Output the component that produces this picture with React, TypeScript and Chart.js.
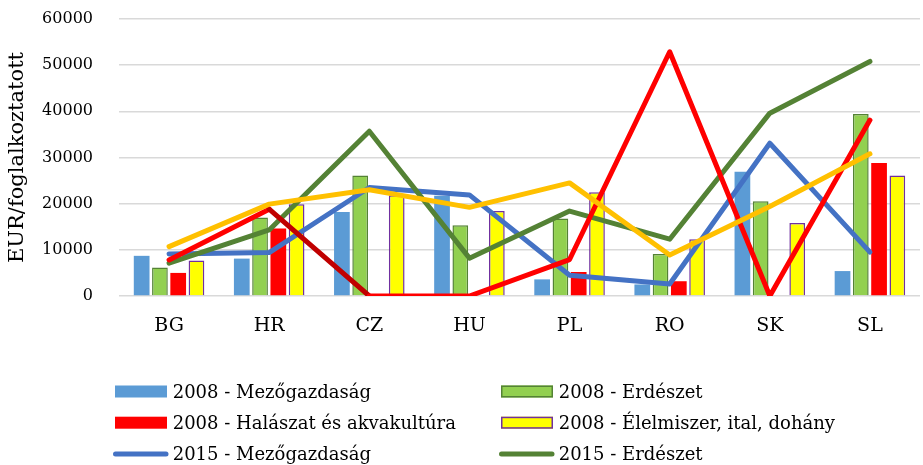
import React, { useEffect, useRef } from 'react';
import { Chart, registerables } from 'chart.js';

Chart.register(...registerables);

const categories = ['BG', 'HR', 'CZ', 'HU', 'PL', 'RO', 'SK', 'SL'];

// 2008 bars
const agri2008 = [8700, 8100, 18200, 21700, 3600, 2500, 26900, 5400];
const forest2008 = [6200, 17000, 26100, 15300, 16800, 9100, 20500, 39400];
const fish2008 = [5000, 14600, 0, 0, 5200, 3200, 0, 28800];
const food2008 = [7700, 19900, 21800, 18400, 22500, 12300, 15800, 26100];

// 2015 lines
const agri2015 = [9100, 9400, 23500, 21900, 4500, 2600, 33100, 9500];
const forest2015 = [7100, 14300, 35700, 8200, 18400, 12300, 39600, 50800];
const fish2015 = [7800, 18800, 0, 0, 7900, 52900, 0, 38100];
const food2015 = [10700, 19900, 23000, 19200, 24500, 8900, 19400, 30800];

const yMin = 0;
const yMax = 60000;
const yStep = 10000;

const FONT = "'DejaVu Serif', serif";

const gridLegend = {
  id: 'gridLegend',
  afterDraw(chart: any) {
    const ctx = chart.ctx as CanvasRenderingContext2D;
    const items = chart.data.datasets.slice(0, 6);
    const colX = [115, 501];
    const rowY = [391.5, 422.7, 454];
    ctx.save();
    items.forEach((ds: any, i: number) => {
      const col = i % 2;
      const row = Math.floor(i / 2);
      const x = colX[col];
      const cy = rowY[row];
      if (ds.type === 'bar') {
        ctx.fillStyle = ds.backgroundColor;
        ctx.fillRect(x, cy - 6, 52, 12);
        if (ds.borderWidth) {
          ctx.strokeStyle = ds.borderColor;
          ctx.lineWidth = 1.5;
          ctx.strokeRect(x + 0.75, cy - 6 + 0.75, 52 - 1.5, 12 - 1.5);
        }
      } else {
        ctx.strokeStyle = ds.borderColor;
        ctx.lineWidth = 5;
        ctx.lineCap = 'round';
        ctx.beginPath();
        ctx.moveTo(x + 0.5, cy);
        ctx.lineTo(x + 51, cy);
        ctx.stroke();
      }
      ctx.fillStyle = '#000';
      ctx.font = `18px ${FONT}`;
      ctx.textAlign = 'left';
      ctx.textBaseline = 'alphabetic';
      ctx.fillText(ds.label, x + 57.7, cy + 6.3);
    });
    ctx.restore();
  },
};

export default function App() {
  const ref = useRef<HTMLCanvasElement | null>(null);

  useEffect(() => {
    if (!ref.current) return;
    const lineCommon = {
      type: 'line' as const,
      borderWidth: 5,
      pointRadius: 0,
      pointHoverRadius: 0,
      fill: false,
      tension: 0,
      borderJoinStyle: 'round' as const,
      borderCapStyle: 'round' as const,
    };
    const chart = new Chart(ref.current, {
      type: 'bar',
      data: {
        labels: categories,
        datasets: [
          { type: 'bar', label: '2008 - Mezőgazdaság', data: agri2008, backgroundColor: '#5B9BD5', borderWidth: 0, order: 5 },
          { type: 'bar', label: '2008 - Erdészet', data: forest2008, backgroundColor: '#92D050', borderColor: '#548235', borderWidth: 1.5, order: 6 },
          { type: 'bar', label: '2008 - Halászat és akvakultúra', data: fish2008, backgroundColor: '#FF0000', borderWidth: 0, order: 7 },
          { type: 'bar', label: '2008 - Élelmiszer, ital, dohány', data: food2008, backgroundColor: '#FFFF00', borderColor: '#7030A0', borderWidth: 1.5, order: 8 },
          { ...lineCommon, label: '2015 - Mezőgazdaság', data: agri2015, borderColor: '#4472C4', backgroundColor: '#4472C4', order: 4 },
          { ...lineCommon, label: '2015 - Erdészet', data: forest2015, borderColor: '#548235', backgroundColor: '#548235', order: 3 },
          {
            ...lineCommon,
            label: '2015 - Halászat és akvakultúra',
            data: fish2015,
            borderColor: '#FF0000',
            backgroundColor: '#FF0000',
            order: 2,
            segment: { borderColor: (c: any) => (c.p0DataIndex === 1 ? '#C00000' : undefined) },
          },
          { ...lineCommon, label: '2015 - Élelmiszer, ital, dohány', data: food2015, borderColor: '#FFC000', backgroundColor: '#FFC000', order: 1 },
        ] as any,
      },
      options: {
        animation: false,
        responsive: false,
        maintainAspectRatio: false,
        layout: { padding: { top: 19, right: 3, left: 0, bottom: 0 } },
        datasets: {
          bar: { barPercentage: 0.86, categoryPercentage: 0.73 },
        },
        plugins: {
          legend: { display: false },
          tooltip: { enabled: false },
        },
        scales: {
          x: {
            grid: { display: false, drawTicks: false },
            border: { display: false },
            ticks: { color: '#000', font: { family: FONT, size: 19 }, padding: 19 },
            afterFit: (s: any) => { s.height = 169; },
          },
          y: {
            min: yMin,
            max: yMax,
            grid: { color: '#d9d9d9', lineWidth: 1.5, drawTicks: false },
            border: { display: false },
            ticks: {
              stepSize: yStep,
              color: '#000',
              font: { family: FONT, size: 16 },
              padding: 26,
              callback: (v: any) => String(v),
            },
            title: { display: true, text: 'EUR/foglalkoztatott', color: '#000', font: { family: FONT, size: 21 }, padding: { top: 5, bottom: 0 } },
            afterFit: (s: any) => {
              s.width = 119;
              s.paddingTop = 8;
              s.paddingBottom = 8;
            },
          },
        },
      },
      plugins: [gridLegend],
    });
    return () => chart.destroy();
  }, []);

  return (
    <div style={{ position: 'absolute', left: 0, top: 0, width: 923, height: 465, background: '#fff' }}>
      <canvas ref={ref} width={923} height={465} />
    </div>
  );
}
